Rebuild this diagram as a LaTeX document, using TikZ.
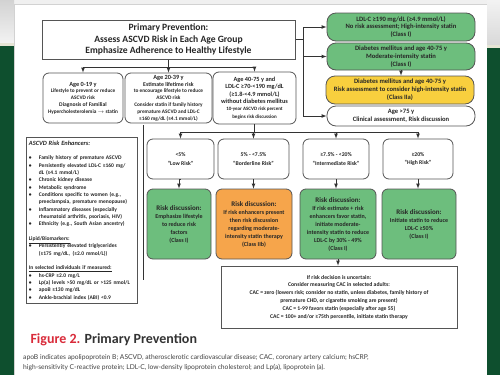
\documentclass[tikz,border=0pt]{standalone}
\usepackage{fontspec}
\setmainfont{Carlito}
\newfontfamily\capfont{Lato}
\usetikzlibrary{arrows}
\usetikzlibrary{positioning}
\usetikzlibrary{calc}
\definecolor{boxgreen}{HTML}{6DBE7D}
\definecolor{boxorange}{HTML}{F6A54B}
\definecolor{boxyellow}{HTML}{F8CF3E}
\definecolor{bggreen}{HTML}{0E4F2E}
\definecolor{figred}{HTML}{D92B3A}
\definecolor{edge}{HTML}{555555}
\newcommand{\bigline}{\fontsize{6.3}{7}\selectfont}
\newcommand{\discfont}{\fontsize{7}{8.5}\selectfont}
\newcommand{\enhitem}[1]{\par\hangindent=10pt\hangafter=1\noindent\makebox[10pt][l]{\textbullet}#1}
\tikzset{
    box/.style={draw=edge, line width=0.8pt, align=center, inner sep=0.5pt, text=black!85,
        font=\bfseries\fontsize{5.6}{7.6}\selectfont},
    titlebox/.style={box, line width=1pt, minimum width=253pt, minimum height=39pt,
        font=\bfseries\fontsize{9.6}{11.5}\selectfont},
    pill/.style={box, rounded corners=9pt, minimum width=148pt, font=\bfseries\fontsize{6.6}{7.9}\selectfont},
    agebox/.style={box, rounded corners=6pt, minimum height=50pt, font=\bfseries\fontsize{5.3}{6.8}\selectfont},
    riskbox/.style={box, rounded corners=6pt, minimum height=40pt, font=\bfseries\fontsize{5.7}{8.5}\selectfont},
    discbox/.style={box, rounded corners=6pt, minimum height=70pt, font=\bfseries\fontsize{6}{8}\selectfont},
    plainbox/.style={box},
    wire/.style={draw=black!80, line width=0.7pt},
    link/.style={wire, -latex},
}

\begin{document}
\begin{tikzpicture}[x=1pt, y=-1pt]
	\useasboundingbox (0,0) rectangle (500,375);
	% backdrop of the slide
	\fill[gray!12] (0,0) rectangle (500,4);
	\shade[top color=gray!35, bottom color=gray!10] (0,0) rectangle (14,43);
	\fill[yellow!25!gray!30] (0,43) rectangle (14,46);
	\fill[bggreen] (0,46) rectangle (14,375);
	\shade[top color=gray!10, bottom color=gray!30] (487,0) rectangle (500,45);
	\fill[yellow!25!gray!30] (487,45) rectangle (500,48);
	\fill[bggreen] (487,48) rectangle (500,375);
	\fill[white] (14,4) rectangle (487,375);
	\draw[gray!35, line width=0.6pt] (14,375) -- (14,4) -- (487,4);
%
	\node[titlebox] (title) at (168.5,39.5) {Primary Prevention:\\ Assess ASCVD Risk in Each Age Group\\ Emphasize Adherence to Healthy Lifestyle};
	\node[agebox, minimum width=80pt] (agea) at (83,98) {\bigline Age 0-19 y\\ Lifestyle to prevent or reduce\\ ASCVD risk\\ \fontsize{5.6}{6.8}\selectfont Diagnosis of Familial\\ Hypercholesterolemia $\rightarrow$ statin};
	\node[agebox, minimum width=87pt] (ageb) at (168.5,98) {\bigline Age 20-39 y\\ \fontsize{5.8}{6.8}\selectfont Estimate lifetime risk\\ to encourage lifestyle to reduce\\ ASCVD risk\\ Consider statin if family history\\ premature ASCVD and LDL-C\\ ≥160 mg/dL (≥4.1 mmol/L)};
	\node[agebox, minimum width=83pt, minimum height=52pt, font=\bfseries\fontsize{6.3}{7.3}\selectfont] (agec) at (254.5,98) {Age 40-75 y and\\ LDL-C ≥70-<190 mg/dL\\ (≥1.8-<4.9 mmol/L)\\ without diabetes mellitus\\ \fontsize{5}{7.3}\selectfont 10-year ASCVD risk percent\\ \fontsize{5}{7.3}\selectfont begins risk discussion};
%
	\node[pill, minimum height=28pt, fill=boxgreen] (ldl) at (401,27) {LDL-C ≥190 mg/dL (≥4.9 mmol/L)\\ No risk assessment; High-intensity statin\\ (Class I)};
	\node[pill, minimum height=27pt, fill=boxgreen] (dmmod) at (401,56.5) {Diabetes mellitus and age 40-75 y\\ Moderate-intensity statin\\ (Class I)};
	\node[pill, minimum height=28pt, fill=boxyellow] (dmrisk) at (400,90) {Diabetes mellitus and age 40-75 y\\ Risk assessment to consider high-intensity statin\\ (Class IIa)};
	\node[pill, minimum height=20pt] (elder) at (401,116) {Age >75 y\\ Clinical assessment, Risk discussion};
%
	\node[riskbox, minimum width=67pt] (low) at (180.5,159) {<5\%\\ “Low Risk”};
	\node[riskbox, minimum width=71pt] (border) at (253.5,159) {5\% - <7.5\%\\ “Borderline Risk”};
	\node[riskbox, minimum width=66pt] (inter) at (336,159) {≥7.5\% - <20\%\\ “Intermediate Risk”};
	\node[riskbox, minimum width=70pt] (high) at (418,159) {≥20\%\\ “High Risk”};
%
	\node[discbox, fill=boxgreen, minimum width=64pt] (disca) at (179,224) {\discfont Risk discussion:\\ Emphasize lifestyle\\ to reduce risk\\ factors\\ (Class I)};
	\node[discbox, fill=boxorange, minimum width=76pt] (discb) at (254,224) {\discfont Risk discussion:\\ If risk enhancers present\\ then risk discussion\\ regarding moderate-\\ intensity statin therapy\\ (Class IIb)};
	\node[discbox, fill=boxgreen, minimum width=76pt] (discc) at (338,224) {\discfont Risk discussion:\\ If risk estimate + risk\\ enhancers favor statin,\\ initiate moderate-\\ intensity statin to reduce\\ LDL-C by 30\% - 49\%\\ (Class I)};
	\node[discbox, fill=boxgreen, minimum width=74pt] (discd) at (419,224) {\discfont Risk discussion:\\ Initiate statin to reduce\\ LDL-C ≥50\%\\ (Class I)};
%
	\node[plainbox, minimum width=236pt, minimum height=62pt, font=\bfseries\fontsize{5.7}{7.8}\selectfont] (cac) at (339,297) {If risk decision is uncertain:\\ Consider measuring CAC in selected adults:\\ CAC = zero (lowers risk; consider no statin, unless diabetes, family history of\\ premature CHD, or cigarette smoking are present)\\ CAC = 1-99 favors statin (especially after age 55)\\ CAC = 100+ and/or ≥75th percentile, initiate statin therapy};
%
	\node[plainbox, anchor=north west, text width=106pt, minimum height=166pt, inner sep=2.5pt, align=left,
		font=\bfseries\fontsize{5.5}{7.33}\selectfont] (enh) at (26,137) {%
		\noindent{\fontsize{6.4}{7.33}\selectfont\itshape ASCVD Risk Enhancers:}\par\vskip7.33pt
		\enhitem{Family history of premature ASCVD}
		\enhitem{Persistently elevated LDL-C ≥160 mg/\newline dL (≥4.1 mmol/L)}
		\enhitem{Chronic kidney disease}
		\enhitem{Metabolic syndrome}
		\enhitem{Conditions specific to women (e.g.,\newline preeclampsia, premature menopause)}
		\enhitem{Inflammatory diseases (especially\newline rheumatoid arthritis, psoriasis, HIV)}
		\enhitem{Ethnicity (e.g., South Asian ancestry)}
		\par\vskip7.33pt\noindent\underline{Lipid/Biomarkers:}
		\enhitem{Persistently elevated triglycerides\newline (≥175 mg/dL,\enspace(≥2.0 mmol/L))}
		\par\vskip7.33pt\noindent\underline{In selected individuals if measured:}
		\enhitem{hs-CRP ≥2.0 mg/L}
		\enhitem{Lp(a) levels >50 mg/dL or >125 nmol/L}
		\enhitem{apoB ≥130 mg/dL}
		\enhitem{Ankle-brachial index (ABI) <0.9}};
%
	% connectors
	\draw[link] (title.south) -- (ageb.north);
	\coordinate (agebar) at ($(title.south)+(0,8)$);
	\draw[wire] (agea.north |- agebar) -- (agec.north |- agebar);
	\draw[link] (agea.north |- agebar) -- (agea.north);
	\draw[link] (agec.north |- agebar) -- (agec.north);
	\coordinate (rbus) at (303,39.5);
	\draw[wire] (title.east) -- (rbus);
	\draw[wire] (rbus |- ldl.west) -- (rbus |- elder.west);
	\draw[link] (rbus |- ldl.west) -- (ldl.west);
	\draw[link] (rbus |- dmmod.west) -- (dmmod.west);
	\draw[link] (rbus |- elder.west) -- (elder.west);
	\draw[link] (dmmod.south) -- (dmmod.south |- dmrisk.north);
	\draw[wire] (agec.south) -- ++(0,8) coordinate (riskbar);
	\draw[wire] (low.north |- riskbar) -- (high.north |- riskbar);
	\draw[link] (low.north |- riskbar) -- (low.north);
	\draw[link] (border.north |- riskbar) -- (border.north);
	\draw[link] (inter.north |- riskbar) -- (inter.north);
	\draw[link] (high.north |- riskbar) -- (high.north);
	\draw[link] (low.south) -- (low.south -| disca.north) -- (disca.north);
	\draw[link] (border.south) -- (border.south |- discb.north);
	\draw[link] (inter.south) -- (inter.south |- discc.north);
	\draw[link] (high.south) -- (high.south |- discd.north);
	\draw[link] (discc.south) -- (discc.south |- cac.north);
	\draw[wire] (143,125) -- (143,280);
%
	\node[anchor=west, font=\bfseries\fontsize{14}{16}\selectfont, text=black!80] (figtitle) at (27,340) {\textcolor{figred}{Figure 2.} Primary Prevention};
	\node[anchor=north west, align=left, inner sep=0pt, text=black!75, font=\capfont\fontsize{6.7}{10.5}\selectfont] (caption) at (23,354) {apoB indicates apolipoprotein B; ASCVD, atherosclerotic cardiovascular disease; CAC, coronary artery calcium; hsCRP,\\ high-sensitivity C-reactive protein; LDL-C, low-density lipoprotein cholesterol; and Lp(a), lipoprotein (a).};
\end{tikzpicture}
\end{document}
